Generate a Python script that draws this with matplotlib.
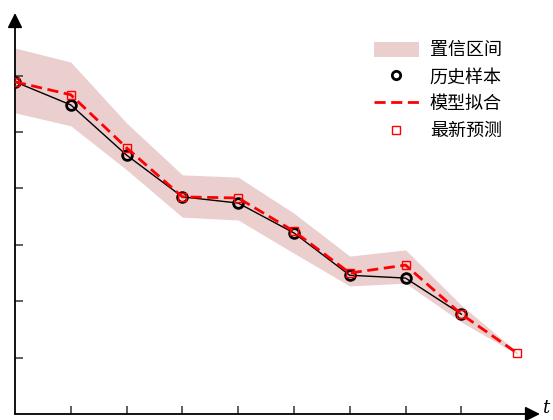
import numpy as np
import matplotlib.pyplot as plt
from matplotlib.patches import Patch
from matplotlib.lines import Line2D

plt.rcParams['font.family'] = ['Noto Sans CJK SC', 'DejaVu Sans']

# ── Data ──────────────────────────────────────────────────────────
t_hist = [0, 1, 2, 3, 4, 5, 6, 7, 8]
y_hist = [5.89, 5.48, 4.59, 3.85, 3.74, 3.21, 2.46, 2.41, 1.77]

t_fit = [0, 1, 2, 3, 4, 5, 6, 7, 8, 9]
y_fit = [5.89, 5.66, 4.72, 3.85, 3.83, 3.24, 2.50, 2.64, 1.77, 1.08]

band_upper = [6.49, 6.24, 5.16, 4.24, 4.20, 3.56, 2.80, 2.91, 1.93, 1.10]
band_lower = [5.34, 5.11, 4.33, 3.49, 3.44, 2.85, 2.27, 2.32, 1.63, 1.06]

x_ticks = [1, 2, 3, 4, 5, 6, 7, 8]
y_ticks = [1, 2, 3, 4, 5, 6]

labels = ["置信区间", "历史样本", "模型拟合", "最新预测"]

BAND = "#ebcfce"
RED = "#ff0000"

# ── Figure ────────────────────────────────────────────────────────
fig = plt.figure(figsize=(5.53, 4.20), dpi=100, facecolor="white")
ax = fig.add_axes([15 / 553, 6 / 420, 525 / 553, 401 / 420])
ax.set_xlim(0, 9.41)
ax.set_ylim(0, 7.11)

ax.fill_between(t_fit, band_lower, band_upper, color=BAND, lw=0, zorder=1)
ax.plot(t_hist, y_hist, color="black", lw=1.0, zorder=2)
ax.plot(t_hist, y_hist, ls="none", marker="o", ms=7, mfc="none",
        mec="black", mew=2.0, zorder=3)
ax.plot(t_fit, y_fit, color=RED, lw=2.0, dashes=(4, 2), zorder=4)
ax.plot(t_fit, y_fit, ls="none", marker="s", ms=5.5, mfc="none",
        mec=RED, mew=1.0, zorder=5)

# axes with arrows, ticks only
for s in ax.spines.values():
    s.set_visible(False)
ax.annotate("", xy=(1, 0), xytext=(0, 0), xycoords="axes fraction",
            arrowprops=dict(arrowstyle="-|>", color="black", lw=1.3,
                            mutation_scale=22, shrinkA=0, shrinkB=0))
ax.annotate("", xy=(0, 1), xytext=(0, 0), xycoords="axes fraction",
            arrowprops=dict(arrowstyle="-|>", color="black", lw=1.3,
                            mutation_scale=22, shrinkA=0, shrinkB=0))
ax.set_xticks(x_ticks)
ax.set_yticks(y_ticks)
ax.set_xticklabels([])
ax.set_yticklabels([])
ax.tick_params(direction="in", length=6, width=1.1, color="#333333")

fig.text(0.987, 0.028, "t", family="DejaVu Serif", style="italic",
         fontsize=13, ha="center", va="center")

# ── Legend ────────────────────────────────────────────────────────
handles = [
    Patch(facecolor=BAND, edgecolor="none"),
    Line2D([], [], ls="none", marker="o", ms=6, mfc="none", mec="black", mew=2.0),
    Line2D([], [], color=RED, lw=2.0, dashes=(4, 2)),
    Line2D([], [], ls="none", marker="s", ms=5.5, mfc="none", mec=RED, mew=1.0),
]
ax.legend(handles, labels, loc="upper right", bbox_to_anchor=(0.958, 0.97),
          frameon=False, fontsize=13, handlelength=2.5, handleheight=0.9,
          handletextpad=0.6, labelspacing=0.5)

fig.savefig("out.png", dpi=100, facecolor="white")
